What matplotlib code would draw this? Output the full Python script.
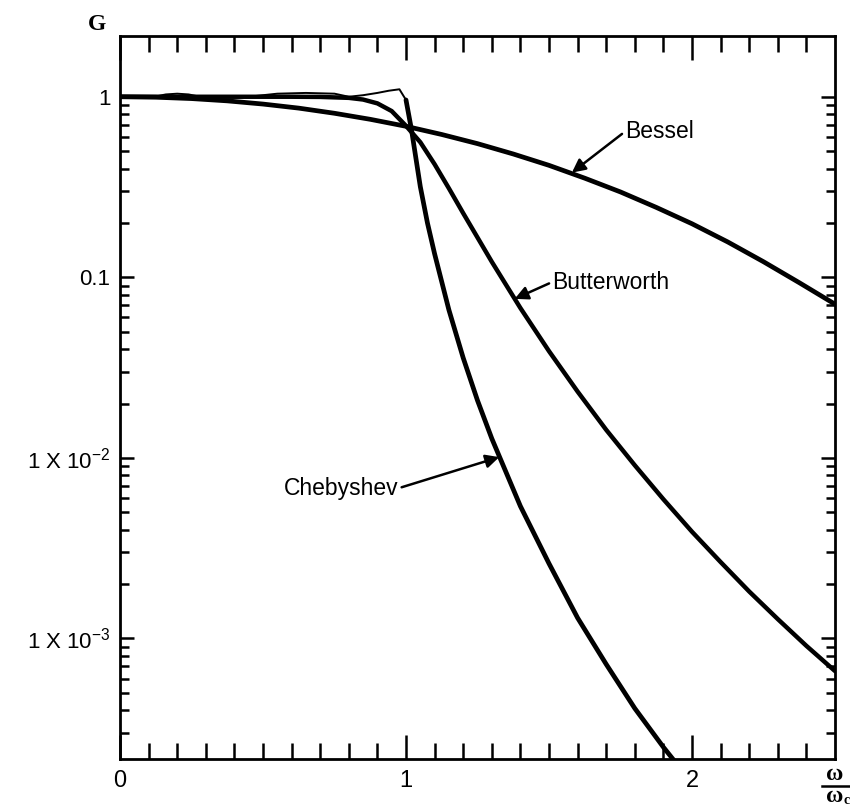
import matplotlib
matplotlib.use('Agg')
import matplotlib.pyplot as plt
from matplotlib.ticker import FixedLocator, FixedFormatter, NullFormatter
from matplotlib.lines import Line2D

plt.rcParams['font.family'] = ['Liberation Sans', 'DejaVu Sans']
plt.rcParams['mathtext.fontset'] = 'custom'
plt.rcParams['mathtext.rm'] = 'Liberation Sans'
plt.rcParams['mathtext.it'] = 'Liberation Sans:italic'
plt.rcParams['mathtext.bf'] = 'Liberation Sans:bold'

# ---- data (x = omega/omega_c, G = gain) ----
bessel_x = [0.0, 0.125, 0.25, 0.375, 0.5, 0.625, 0.75, 0.875, 1.0, 1.125, 1.25,
            1.375, 1.5, 1.625, 1.75, 1.875, 2.0, 2.125, 2.25, 2.375, 2.5]
bessel_g = [1.0, 0.994, 0.977, 0.949, 0.911, 0.865, 0.810, 0.750, 0.686, 0.618, 0.550,
            0.482, 0.417, 0.354, 0.297, 0.244, 0.198, 0.157, 0.122, 0.0934, 0.071]

butter_x = [0.0, 0.2, 0.4, 0.6, 0.7, 0.8, 0.85, 0.9, 0.95, 1.0, 1.05, 1.1, 1.15, 1.2,
            1.3, 1.4, 1.5, 1.6, 1.7, 1.8, 1.9, 2.0, 2.1, 2.2, 2.3, 2.4, 2.5]
butter_g = [1.0, 1.0, 1.0, 1.0, 0.998, 0.986, 0.965, 0.919, 0.833, 0.69, 0.560, 0.423,
            0.311, 0.2265, 0.1219, 0.0676, 0.0390, 0.0233, 0.0143, 0.0091, 0.0059,
            0.0039, 0.00265, 0.00182, 0.00128, 0.00091, 0.00066]

cheb_x = [0.0, 0.12, 0.16, 0.2, 0.24, 0.28, 0.45, 0.5, 0.55, 0.65, 0.75, 0.8, 0.85,
          0.9, 0.94, 0.977, 1.0, 1.019, 1.05, 1.075, 1.1, 1.15, 1.2, 1.25, 1.3, 1.4,
          1.5, 1.6, 1.7, 1.8, 1.9, 1.96]
cheb_g = [1.0, 1.0, 1.03, 1.04, 1.03, 1.0, 1.0, 1.02, 1.04, 1.05, 1.04, 1.0, 1.02,
          1.05, 1.08, 1.10, 0.96, 0.66, 0.318, 0.2, 0.135, 0.066, 0.0358, 0.0208,
          0.0128, 0.0054, 0.0026, 0.0013, 0.00072, 0.00041, 0.00025, 0.00019]

y_ticks = [1e-3, 1e-2, 1e-1, 1.0]
y_tick_labels = ['1 X 10$^{-3}$', '1 X 10$^{-2}$', '0.1', '1']
x_ticks = [0, 1, 2]
x_tick_labels = ['0', '1', '2']

# ---- figure ----
fig = plt.figure(figsize=(8.5, 8.06), dpi=100)
ax = fig.add_axes([120/850, 1 - 759/806, 715/850, 723/806])
ax.set_yscale('log')
ax.set_xlim(0, 2.5)
ax.set_ylim(2.15e-4, 2.17)

line_kw = dict(color='black', solid_joinstyle='round', solid_capstyle='round')
ax.plot(bessel_x, bessel_g, lw=3.4, **line_kw)
ax.plot(butter_x, butter_g, lw=3.2, **line_kw)
pass_idx = [i for i, v in enumerate(cheb_x) if v <= 1.0]
stop_idx = [i for i, v in enumerate(cheb_x) if v >= 1.0]
ax.plot([cheb_x[i] for i in pass_idx], [cheb_g[i] for i in pass_idx], lw=1.4, **line_kw)
ax.plot([cheb_x[i] for i in stop_idx], [cheb_g[i] for i in stop_idx], lw=3.4, **line_kw)

for s in ax.spines.values():
    s.set_linewidth(2.0)

ax.xaxis.set_major_locator(FixedLocator(x_ticks))
ax.xaxis.set_major_formatter(FixedFormatter(x_tick_labels))
ax.xaxis.set_minor_locator(FixedLocator([i / 10 for i in range(1, 25) if i % 10]))
ax.yaxis.set_major_locator(FixedLocator(y_ticks))
ax.yaxis.set_major_formatter(FixedFormatter(y_tick_labels))
ax.yaxis.set_minor_locator(FixedLocator([m * 10.0**e for e in range(-4, 0) for m in range(2, 10)]))
ax.yaxis.set_minor_formatter(NullFormatter())

ax.tick_params(which='both', direction='in', top=True, right=True, width=1.8, colors='black')
ax.tick_params(axis='x', which='major', length=17, labelsize=17, pad=8)
ax.tick_params(axis='x', which='minor', length=11.5)
ax.tick_params(axis='y', which='major', length=10, labelsize=16, pad=7)
ax.tick_params(axis='y', which='minor', length=6.5)

arrow_kw = dict(arrowstyle='-|>', lw=1.8, color='black', mutation_scale=20,
                shrinkA=0, shrinkB=0)
ax.annotate('Bessel', xy=(1.58, 0.38), xytext=(1.765, 0.64), ha='left', va='center',
            fontsize=16.5, arrowprops=dict(relpos=(0, 0.5), **arrow_kw))
ax.annotate('Butterworth', xy=(1.38, 0.076), xytext=(1.51, 0.094), ha='left', va='center',
            fontsize=16.5, arrowprops=dict(relpos=(0, 0.5), **arrow_kw))
ax.annotate('Chebyshev', xy=(1.326, 0.0101), xytext=(0.975, 0.0068), ha='right', va='center',
            fontsize=16.5, arrowprops=dict(relpos=(1, 0.5), **arrow_kw))

# axis titles
serif = ['Liberation Serif', 'DejaVu Serif']
fig.text(97/850, 1 - 25/806, 'G', ha='center', va='center', fontsize=17,
         family=serif, weight='bold')
fig.text(835/850, 1 - 774/806, 'ω', ha='center', va='center', fontsize=17,
         family=serif, weight='bold')
fig.add_artist(Line2D([822/850, 850/850], [1 - 786/806, 1 - 786/806], lw=1.8,
                      color='black', transform=fig.transFigure))
fig.text(835/850, 1 - 796/806, 'ω', ha='center', va='center', fontsize=17,
         family=serif, weight='bold')
fig.text(843/850, 1 - 800/806, 'c', ha='left', va='center', fontsize=10,
         family=serif, weight='bold')

fig.savefig('out.png', dpi=100, facecolor='white')
